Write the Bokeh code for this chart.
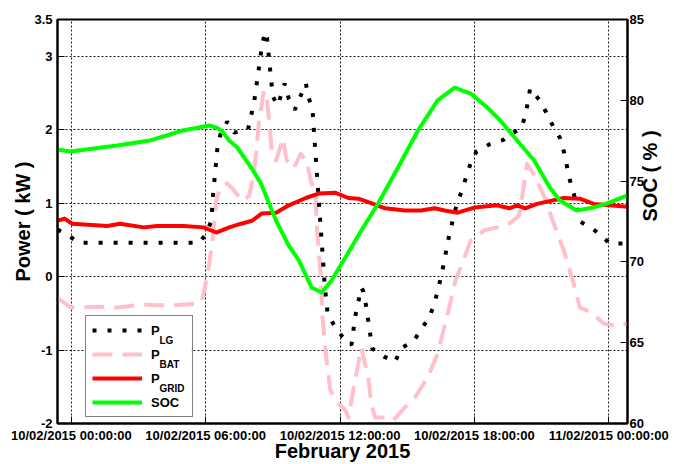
import math

from bokeh.plotting import figure
from bokeh.models import (Range1d, LinearAxis, FixedTicker, Legend, LegendItem, Label,
                          BoxAnnotation)
from bokeh.embed import file_html
from bokeh.resources import INLINE

FONT = "Liberation Sans"

# Time axis in hours after 10/02/2015 00:00:00
time_ticks = [0, 6, 12, 18, 24]
time_tick_labels = [
    "10/02/2015 00:00:00",
    "10/02/2015 06:00:00",
    "10/02/2015 12:00:00",
    "10/02/2015 18:00:00",
    "11/02/2015 00:00:00",
]
power_ticks = [-2, -1, 0, 1, 2, 3, 3.5]
power_tick_labels = ["-2", "-1", "0", "1", "2", "3", "3.5"]
soc_ticks = [60, 65, 70, 75, 80, 85]

# Load power P_LG (kW)
plg_hours = [-0.62, -0.04, 0.31, 5.72, 6.03, 6.25, 6.34, 6.43, 6.52, 6.65, 6.96, 7.27, 7.89,
             8.16, 8.34, 8.51, 8.65, 8.74, 8.87, 9.0, 9.22, 9.53, 9.71, 9.98, 10.47, 10.6,
             10.78, 10.86, 10.95, 11.04, 11.13, 11.22, 11.31, 11.44, 11.71, 12.11, 12.51,
             12.68, 12.95, 13.04, 13.17, 13.35, 13.44, 13.97, 14.46, 14.72, 15.3, 15.65,
             16.01, 16.23, 16.54, 16.9, 17.21, 17.43, 17.83, 18.09, 18.67, 19.29, 19.65,
             20.09, 20.27, 20.4, 20.49, 20.89, 21.2, 21.51, 21.82, 22.0, 22.13, 22.26,
             22.44, 22.57, 22.71, 23.19, 23.64, 24.04, 24.84]
plg_kw = [0.64, 0.54, 0.46, 0.46, 0.59, 0.76, 1.16, 1.44, 1.74, 1.93, 2.11, 1.96, 2.0,
          2.37, 2.76, 3.14, 3.33, 3.25, 2.84, 2.45, 2.33, 2.63, 2.42, 2.27, 2.63, 2.44,
          2.24, 1.86, 1.47, 1.09, 0.69, 0.31, -0.1, -0.49, -0.65, -0.82, -0.93,
          -0.54, -0.15, -0.2, -0.41, -0.79, -0.98, -1.09, -1.16, -0.98, -0.87, -0.71,
          -0.54, -0.35, 0.03, 0.6, 0.98, 1.16, 1.54, 1.7, 1.8, 1.86, 1.95,
          2.01, 2.19, 2.39, 2.56, 2.41, 2.24, 2.05, 1.89, 1.7, 1.51, 1.32,
          1.13, 0.97, 0.75, 0.67, 0.57, 0.45, 0.45]

# Battery power P_BAT (kW)
bat_hours = [-0.62, -0.04, 0.49, 1.15, 2.04, 3.24, 3.81, 4.57, 5.59, 5.81, 5.94, 6.16, 6.3,
             6.39, 6.47, 6.65, 6.96, 7.27, 7.63, 7.94, 8.12, 8.25, 8.38, 8.6, 8.74, 8.82,
             8.96, 9.14, 9.45, 9.62, 9.93, 10.24, 10.51, 10.69, 10.91, 10.95, 11.13, 11.22,
             11.35, 11.57, 11.93, 12.24, 12.37, 12.59, 12.95, 13.26, 13.39, 13.57, 14.01,
             14.37, 14.9, 15.34, 15.92, 16.36, 16.81, 17.16, 17.56, 17.83, 18.45, 19.02,
             19.6, 20.0, 20.18, 20.35, 20.62, 21.11, 21.55, 22.0, 22.44, 22.71, 23.24,
             23.77, 24.35, 24.84]
bat_kw = [-0.29, -0.42, -0.42, -0.41, -0.42, -0.38, -0.39, -0.39, -0.37, -0.35, -0.19, 0.18, 0.49,
          0.76, 1.03, 1.22, 1.27, 1.17, 1.03, 1.1, 1.35, 1.67, 2.12, 2.53, 2.39, 2.16,
          1.67, 1.58, 1.88, 1.58, 1.47, 1.67, 1.58, 1.31, 1.13, 0.72, 0.04, -0.56,
          -1.01, -1.55, -1.73, -1.82, -1.92, -1.55, -0.97, -1.37, -1.73, -1.92, -1.92,
          -1.96, -1.78, -1.65, -1.37, -1.05, -0.5, -0.05, 0.26, 0.49, 0.63, 0.67,
          0.73, 0.83, 1.17, 1.54, 1.41, 1.1, 0.72, 0.35, -0.1, -0.42, -0.49,
          -0.64, -0.67, -0.64]

# Grid power P_GRID (kW)
grid_hours = [-0.62, -0.31, 0.04, 1.6, 2.17, 3.24, 3.81, 5.01, 5.9, 6.47, 7.05, 7.58, 8.07,
              8.51, 9.14, 9.71, 10.47, 11.04, 11.8, 12.37, 12.82, 13.39, 14.01, 14.9, 15.61,
              16.23, 16.67, 17.25, 18.0, 19.02, 19.56, 19.91, 20.27, 20.8, 22.0, 22.71,
              23.33, 24.04, 24.84]
grid_kw = [0.76, 0.79, 0.72, 0.69, 0.72, 0.67, 0.69, 0.69, 0.67, 0.6, 0.67, 0.72, 0.76,
           0.86, 0.87, 0.97, 1.07, 1.13, 1.14, 1.07, 1.06, 1.0, 0.93, 0.9, 0.9,
           0.93, 0.9, 0.87, 0.94, 0.97, 0.93, 0.97, 0.93, 0.99, 1.07, 1.06,
           0.99, 0.97, 0.95]

# Battery state of charge (%)
soc_hours = [-0.62, -0.04, 2.04, 3.5, 4.97, 6.16, 6.47, 6.7, 7.05, 7.41, 8.03, 8.47, 9.14,
             9.71, 10.16, 10.73, 11.18, 11.62, 12.24, 12.95, 13.7, 14.59, 15.48, 16.36,
             17.12, 17.83, 18.58, 19.16, 19.91, 20.67, 21.37, 21.82, 22.57, 23.33, 23.9,
             24.84]
soc_pct = [76.96, 76.83, 77.2, 77.51, 78.13, 78.44, 78.32, 78.13, 77.51, 77.08, 75.84, 74.85, 72.56,
           71.01, 70.09, 68.42, 68.11, 68.85, 70.27, 71.94, 73.61, 75.84, 78.13, 79.99,
           80.79, 80.42, 79.55, 78.75, 77.51, 76.27, 74.6, 73.8, 73.18, 73.37, 73.61,
           74.11]

p = figure(
    width=674, height=464,
    output_backend="svg", toolbar_location=None,
    x_range=Range1d(-0.62, 24.84), y_range=Range1d(-2, 3.5),
    min_border_left=57, min_border_right=43, min_border_top=19, min_border_bottom=41,
    x_axis_label="February 2015", y_axis_label="Power ( kW )",
    background_fill_color="white", border_fill_color="white",
)
p.extra_y_ranges = {"soc": Range1d(60, 85)}
p.outline_line_color = "black"
p.outline_line_width = 2

time_axis = p.xaxis[0]
power_axis = p.yaxis[0]

# Series
r_bat = p.line(bat_hours, bat_kw, line_color="#ffc0cb", line_width=4, line_dash="20 10",
               line_join="round")
r_lg = p.line(plg_hours, plg_kw, line_color="black", line_width=4, line_dash="4 11",
              line_cap="butt")
r_grid = p.line(grid_hours, grid_kw, line_color="#ff0000", line_width=4, line_join="round")
r_soc = p.line(soc_hours, soc_pct, y_range_name="soc", line_color="#00ff00", line_width=4,
               line_join="round")

# Axes
time_axis.ticker = FixedTicker(ticks=time_ticks)
time_axis.major_label_overrides = {float(t): s for t, s in zip(time_ticks, time_tick_labels)}
power_axis.ticker = FixedTicker(ticks=power_ticks)
power_axis.major_label_overrides = {float(t): s for t, s in zip(power_ticks, power_tick_labels)}

soc_axis = LinearAxis(y_range_name="soc", ticker=FixedTicker(ticks=soc_ticks),
                      axis_label="SOC ( % )")
p.add_layout(soc_axis, "right")

for ax in [time_axis, power_axis, soc_axis]:
    ax.axis_line_color = "black"
    ax.axis_line_width = 2
    ax.major_tick_in = 7
    ax.major_tick_out = 0
    ax.major_tick_line_color = "black"
    ax.major_tick_line_width = 1
    ax.minor_tick_line_color = None
    ax.major_label_text_font = FONT
    ax.major_label_text_font_style = "bold"
    ax.major_label_text_font_size = "13px"
    ax.major_label_text_color = "black"
    ax.axis_label_text_font = FONT
    ax.axis_label_text_font_style = "bold"
    ax.axis_label_text_font_size = "20px"
    ax.axis_label_text_color = "black"

time_axis.major_label_standoff = 4
time_axis.axis_label_standoff = -6
power_axis.major_label_standoff = 5
power_axis.axis_label_standoff = -3
soc_axis.major_label_standoff = 2
soc_axis.axis_label_standoff = 3
# read the right-hand title from bottom to top, like the left one
if "axis_label_orientation" in soc_axis.properties():
    soc_axis.axis_label_orientation = math.pi / 2

# Grid
for g in [p.xgrid[0], p.ygrid[0]]:
    g.grid_line_color = "black"
    g.grid_line_width = 1
    g.grid_line_dash = "2 2"
    g.grid_line_alpha = 0.9

# Opaque white backing for the legend (the legend itself is drawn transparent so
# that the subscript labels stay visible on top of it)
p.add_layout(BoxAnnotation(left=28, right=134, bottom=6, top=106,
                           left_units="screen", right_units="screen",
                           bottom_units="screen", top_units="screen",
                           fill_color="white", fill_alpha=1, line_color=None))

# Legend
legend = Legend(
    items=[
        LegendItem(label="P", renderers=[r_lg]),
        LegendItem(label="P", renderers=[r_bat]),
        LegendItem(label="P", renderers=[r_grid]),
        LegendItem(label="SOC", renderers=[r_soc]),
    ],
    location=(28, 6),
    glyph_width=50, glyph_height=16, label_height=16, label_width=35,
    label_standoff=9, spacing=8, padding=6, margin=0,
    label_text_font=FONT, label_text_font_style="bold", label_text_font_size="13px",
    label_text_color="black",
    border_line_color="black", border_line_width=1.5,
    background_fill_color="white", background_fill_alpha=0,
)
p.add_layout(legend)

# Subscripts of the legend's P labels
for sub, y in zip(["LG", "BAT", "GRID"], [83.5, 59, 35.5]):
    p.add_layout(Label(x=102, y=y, x_units="screen", y_units="screen", text=sub,
                       text_align="left", text_baseline="middle",
                       text_font=FONT, text_font_style="bold", text_font_size="10px",
                       text_color="black"))

open("out.html", "w").write(file_html(p, INLINE))
